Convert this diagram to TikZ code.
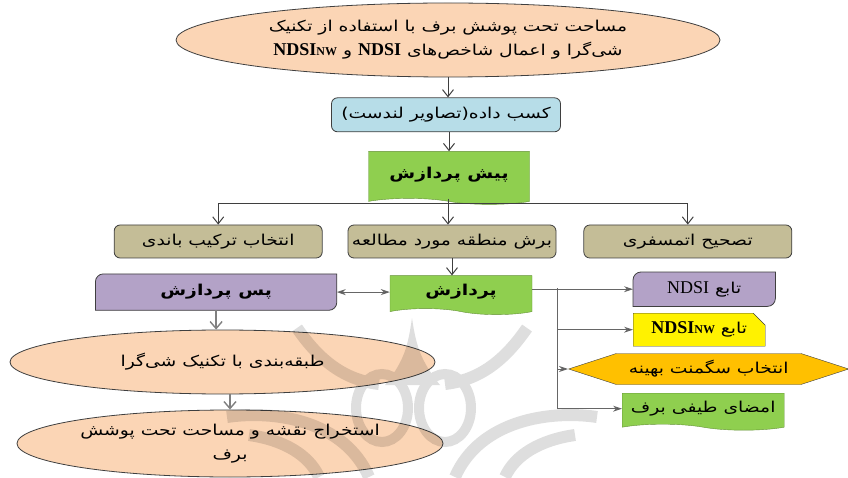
\documentclass[tikz,border=0pt]{standalone}
\usepackage{fontspec}
\setmainfont{Liberation Serif}
\newfontfamily\farsi[Script=Arabic,FakeStretch=1.25]{DejaVu Sans}
\TeXXeTstate=1
\usepackage{tikz}
\usetikzlibrary{shapes,
                arrows.meta,
                positioning,
                backgrounds}
\definecolor{peach}{HTML}{FBD5B5}
\definecolor{skyfill}{HTML}{B7DDE8}
\definecolor{leaf}{HTML}{8FCF4F}
\definecolor{tan}{HTML}{C4BD97}
\definecolor{lilac}{HTML}{B3A2C7}
\definecolor{amber}{HTML}{FFC000}
\definecolor{edgegray}{HTML}{3F3F3F}
\newcommand{\fa}[1]{{\farsi\beginR #1\endR}}
\newcommand{\ndsi}{\beginL{\rmfamily\bfseries\fontsize{18}{24}\selectfont NDSI}\endL}
\newcommand{\ndsiplain}{\beginL{\rmfamily\fontsize{18}{24}\selectfont NDSI}\endL}
\newcommand{\ndsinw}{\beginL{\rmfamily\bfseries\fontsize{18}{24}\selectfont NDSI{\fontsize{12}{24}\selectfont NW}}\endL}
\newcommand{\diagbox}[1]{\draw [edgegray, line width=.8pt, fill=lilac, rounded corners=8pt]
    ([xshift=20pt]#1.north west) -- (#1.north west) [sharp corners] -- (#1.south west)
    -- ([xshift=-20pt]#1.south east) [rounded corners=8pt] -- (#1.south east) [sharp corners]
    -- (#1.north east) -- cycle;}
\tikzset{oval/.style =
   {ellipse,
    draw=edgegray,
    line width=.8pt,
    fill=peach,
    align=center,
    inner sep=0pt}}
\tikzset{block/.style =
   {rectangle,
    draw=edgegray,
    line width=.8pt,
    rounded corners=6pt,
    text centered,
    minimum width=208pt,
    minimum height=33pt}}
\tikzset{sheet/.style =
   {tape,
    tape bend top=none,
    tape bend bottom=out and in,
    tape bend height=6pt,
    draw=leaf!70!black,
    fill=leaf,
    text centered,
    inner sep=0pt}}
\tikzset{diagnode/.style =
   {rectangle,
    text centered,
    minimum height=34pt}}
\tikzset{arrow/.style = {draw=edgegray, line width=1pt, -{Straight Barb[length=7pt,width=11pt]}}}
\tikzset{grayarrow/.style = {draw=gray!80!black, line width=1pt, -{Stealth[length=9pt,width=6pt,fill=edgegray]}}}
\tikzset{softarrow/.style = {draw=gray, line width=1.4pt, -{Straight Barb[length=7pt,width=12pt]}}}

\begin{document}
\begin{tikzpicture}[x=1pt, y=1pt, auto, font=\fontsize{15}{24}\selectfont]

    \useasboundingbox (0,0) rectangle (848,477);

    \node [oval,
           minimum width=544pt,
           minimum height=74pt] at (448,437) (goal)
    {\fa{مساحت تحت پوشش برف با استفاده از تکنیک}\\
     \fa{شی‌گرا و اعمال شاخص‌های \ndsi{} و \ndsinw}};

    \node [block,
           fill=skyfill,
           minimum width=229pt,
           minimum height=34pt,
           below = 20pt of goal.south,
           xshift=-2pt] (data) {\fa{کسب داده(تصاویر لندست)}};

    \node [sheet,
           minimum width=161pt,
           minimum height=53pt,
           below = 19pt of data.south,
           xshift=3pt] (pre) {\fa{\textbf{پیش پردازش}}};

    \node [block,
           fill=tan,
           below = 26pt of pre.south,
           xshift=3pt] (clip) {\fa{برش منطقه مورد مطالعه}};

    \node [block,
           fill=tan,
           left = 25pt of clip] (bands) {\fa{انتخاب ترکیب باندی}};

    \node [block,
           fill=tan,
           right = 27pt of clip] (atmos) {\fa{تصحیح اتمسفری}};

    \node [sheet,
           minimum width=142pt,
           minimum height=39pt,
           below = 17pt of clip.south,
           xshift=9pt] (proc) {\fa{\textbf{پردازش}}};

    \node [diagnode,
           minimum width=241pt,
           minimum height=36pt,
           left = 53pt of proc] (post) {\fa{\textbf{پس پردازش}}};

    \node [diagnode,
           minimum width=142pt,
           anchor=north west] at (633,205) (ndsi)
    {\fa{تابع \ndsiplain}};

    \node [chamfered rectangle,
           chamfered rectangle corners=north east,
           chamfered rectangle xsep=6pt,
           chamfered rectangle ysep=6pt,
           draw=edgegray,
           fill=yellow,
           text centered,
           inner sep=0pt,
           minimum width=132pt,
           minimum height=33pt,
           anchor=north west] at (633,164) (ndsinw)
    {\fa{تابع \ndsinw}};

    \node [signal,
           signal to=east and west,
           signal pointer angle=36,
           draw=edgegray,
           fill=amber,
           text centered,
           inner ysep=0pt,
           minimum width=280pt,
           minimum height=31pt,
           anchor=west] at (568,108) (segment)
    {\fa{انتخاب سگمنت بهینه}};

    \node [sheet,
           minimum width=162pt,
           minimum height=37pt,
           anchor=north west] at (622,84) (snow)
    {\fa{امضای طیفی برف}};

    \node [oval,
           minimum width=425pt,
           minimum height=64pt] at (222.5,115) (classify)
    {\fa{طبقه‌بندی با تکنیک شی‌گرا}};

    \node [oval,
           minimum width=426pt,
           minimum height=67pt] at (230,33.5) (extract)
    {\fa{استخراج نقشه و مساحت تحت پوشش}\\
     \fa{برف}};

    \begin{pgfonlayer}{background}
        \diagbox{post}
        \diagbox{ndsi}
    \end{pgfonlayer}

    \coordinate (bus) at (448,273);
    \coordinate (trunk) at (557,189);

    \draw [arrow] (goal.south) -- (goal.south |- data.north);
    \draw [arrow] (data.south -| pre.north) -- (pre.north);
    \draw [edgegray, line width=.8pt] (pre.south -| bus) -- (bus);
    \draw [arrow] (bus) -- (bus |- clip.north);
    \draw [arrow] (bus) -| (bands.north);
    \draw [arrow] (bus) -| (atmos.north);
    \draw [arrow] (clip.south) -- (clip.south |- proc.north);
    \draw [grayarrow, {Stealth[length=9pt,width=6pt,fill=edgegray]}-{Stealth[length=9pt,width=6pt,fill=edgegray]}] (post.east) -- (post.east -| proc.west);
    \draw [grayarrow] (proc.east |- ndsi.west) -- (ndsi.west);
    \draw [grayarrow] (trunk) |- (ndsinw.west);
    \draw [grayarrow] (trunk) |- (segment.west);
    \draw [grayarrow] (trunk) |- (snow.west);
    \draw [softarrow] (post.south) -- (post.south |- classify.north);
    \draw [softarrow] (classify.south -| extract.north) -- (extract.north);

    % watermark
    \begin{scope}[shift={(0,477)}, yscale=-1, transparency group, opacity=.13]
        \fill (412,318) .. controls (408,345) and (405,360) .. (385,385)
            -- (440,385) .. controls (420,360) and (416,345) .. (412,318) -- cycle;
        \draw [line width=12pt] (527,328) .. controls (505,360) and (480,380) .. (445,384);
        \draw [line width=12pt] (297,328) .. controls (319,360) and (344,380) .. (379,384);
        \draw [line width=10pt] (382,408) ellipse (26 and 34) (445,408) ellipse (26 and 34);
        \draw [line width=12pt] (597,417) .. controls (550,410) and (480,420) .. (455,477);
        \draw [line width=12pt] (227,417) .. controls (274,410) and (344,420) .. (369,477);
        \draw [line width=12pt] (505,477) .. controls (515,455) and (540,440) .. (575,435);
        \draw [line width=12pt] (319,477) .. controls (309,455) and (284,440) .. (249,435);
    \end{scope}

\end{tikzpicture}
\end{document}
